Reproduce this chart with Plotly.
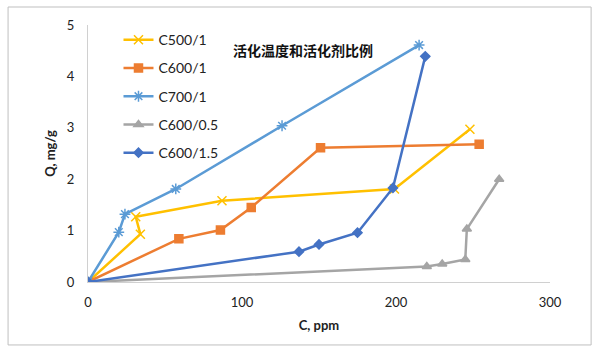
import plotly.graph_objects as go

c500_x = [0, 34, 31, 87, 199, 248]
c500_y = [0, 0.93, 1.27, 1.58, 1.81, 2.97]
c600_x = [0, 59, 86, 106, 151, 254]
c600_y = [0, 0.84, 1.01, 1.45, 2.61, 2.68]
c700_x = [0, 20, 24, 57, 126, 215]
c700_y = [0, 0.97, 1.32, 1.81, 3.04, 4.61]
c605_x = [0, 220, 230, 245, 246, 267]
c605_y = [0, 0.30, 0.35, 0.44, 1.03, 2.00]
c615_x = [0, 137, 150, 175, 198, 219]
c615_y = [0, 0.59, 0.73, 0.96, 1.83, 4.39]

names = ["C500/1", "C600/1", "C700/1", "C600/0.5", "C600/1.5"]
colors = ["#FFC000", "#ED7D31", "#5B9BD5", "#A5A5A5", "#4472C4"]
symbols = ["x-thin-open", "square", "asterisk-open", "triangle-up", "diamond"]
sizes = [9, 8, 9, 8, 7]
xs = [c500_x, c600_x, c700_x, c605_x, c615_x]
ys = [c500_y, c600_y, c700_y, c605_y, c615_y]

FONT = "Lato, 'Noto Sans CJK SC', sans-serif"

fig = go.Figure()
for i in range(5):
    fig.add_trace(go.Scatter(
        x=xs[i], y=ys[i], name=names[i], mode="lines+markers",
        legendgroup=names[i],
        line=dict(color=colors[i], width=2.5),
        marker=dict(symbol=symbols[i], size=sizes[i], color=colors[i],
                    line=dict(color=colors[i], width=1.5)),
    ))

fig.update_layout(
    width=600, height=353,
    margin=dict(l=88, r=50, t=25, b=71),
    paper_bgcolor="white", plot_bgcolor="white",
    font=dict(family=FONT, size=13, color="#222222"),
    showlegend=True,
    legend=dict(x=0.066, y=1.003, xanchor="left", yanchor="top",
                bgcolor="rgba(0,0,0,0)", font=dict(size=14, color="#222222"),
                tracegroupgap=7),
    xaxis=dict(range=[0, 300], tickvals=[0, 100, 200, 300], showgrid=False,
               zeroline=False, showline=True, linecolor="#D0D0D0", linewidth=1,
               ticks="", ticklabelstandoff=8,
               title=dict(text="<b>C, ppm</b>", font=dict(size=13), standoff=12)),
    yaxis=dict(range=[0, 5], tickvals=[0, 1, 2, 3, 4, 5], showgrid=False,
               zeroline=False, showline=True, linecolor="#D0D0D0", linewidth=1,
               ticks="", ticklabelstandoff=10,
               title=dict(text="<b>Q, mg/g</b>", font=dict(size=13), standoff=8)),
    annotations=[dict(text="<b>活化温度和活化剂比例</b>", x=0.465, y=0.942,
                      xref="paper", yref="paper", showarrow=False,
                      font=dict(size=14, color="#111111"))],
    shapes=[dict(type="rect", xref="paper", yref="paper",
                 x0=-0.173, x1=1.089, y0=-0.245, y1=1.070,
                 line=dict(color="#BFBFBF", width=1), layer="below")],
)

fig.write_html("out.html")
